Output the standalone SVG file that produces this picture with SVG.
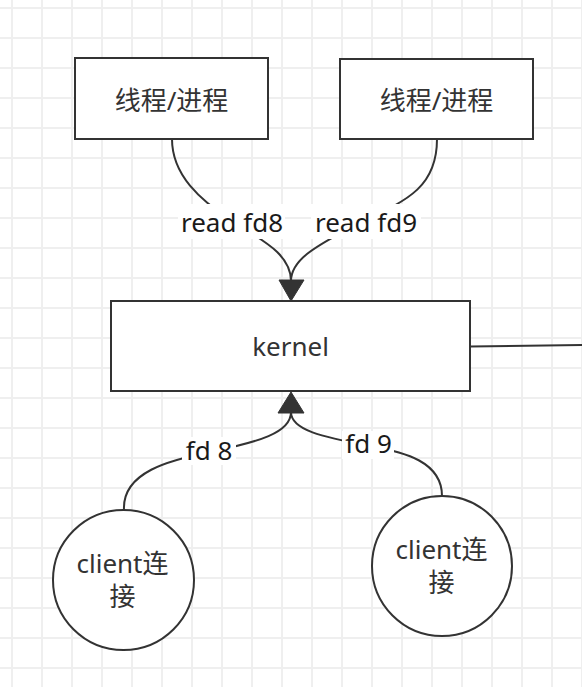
<svg xmlns="http://www.w3.org/2000/svg" width="582" height="687" viewBox="0 0 582 687">
<defs>
<pattern id="grid" x="11" y="7" width="30" height="30" patternUnits="userSpaceOnUse">
<rect x="0" y="0" width="2" height="30" fill="#efefef"/>
<rect x="0" y="0" width="30" height="2" fill="#efefef"/>
</pattern>
<style>
.node{fill:#ffffff;stroke:#333333;stroke-width:2}
.edge{fill:none;stroke:#333333;stroke-width:2}
.head{fill:#333333;stroke:#333333;stroke-width:1}
.t{font-family:"Noto Sans","Noto Sans CJK SC",sans-serif;font-size:26px;fill:#333333;text-anchor:middle}
.lbl{font-family:"Noto Sans","Noto Sans CJK SC",sans-serif;font-size:26px;fill:#1a1a1a;text-anchor:middle}
.lbg{fill:#ffffff;stroke:none}
</style>
</defs>
<rect x="0" y="0" width="582" height="687" fill="#ffffff"/>
<rect x="0" y="0" width="582" height="687" fill="url(#grid)"/>

<g id="connectors">
<path class="edge" d="M172,139 C172,175 200,200 232,221 C257,238 291,252 291,281"/>
<path class="edge" d="M437,139 C437,185 410,200 362,221 C330,240 291,255 291,281"/>
<path class="edge" d="M124,510 C122,472 170,460 210,452 C258,442 291,433 291,412"/>
<path class="edge" d="M442,496 C442,462 405,452 370,446 C322,437 291,430 291,412"/>
<path class="edge" d="M470,346.5 L582,345"/>
<polygon class="head" points="291,301 279,280 304,280"/>
<polygon class="head" points="291,392 278,413 304,413"/>
<rect class="lbg" x="178" y="204" width="107" height="35"/>
<text class="lbl" x="232" y="232">read fd8</text>
<rect class="lbg" x="311" y="204" width="110" height="35"/>
<text class="lbl" x="366" y="232">read fd9</text>
<rect class="lbg" x="182" y="437" width="54" height="28"/>
<text class="lbl" x="209" y="460">fd 8</text>
<rect class="lbg" x="342" y="431" width="52" height="28"/>
<text class="lbl" x="368.5" y="453">fd 9</text>
</g>

<g id="thread1">
<rect class="node" x="75" y="58" width="193" height="81"/>
<text class="t" x="171.5" y="110">线程/进程</text>
</g>
<g id="thread2">
<rect class="node" x="340" y="59" width="193" height="80"/>
<text class="t" x="436.5" y="110">线程/进程</text>
</g>
<g id="kernel">
<rect class="node" x="111" y="301" width="359" height="90"/>
<text class="t" x="290.5" y="356">kernel</text>
</g>
<g id="client1">
<ellipse class="node" cx="123.5" cy="580" rx="70.5" ry="70"/>
<text class="t" x="122.5" y="573">client连</text>
<text class="t" x="122.5" y="606">接</text>
</g>
<g id="client2">
<ellipse class="node" cx="442" cy="566" rx="70" ry="70"/>
<text class="t" x="441.5" y="559">client连</text>
<text class="t" x="441.5" y="592">接</text>
</g>
</svg>
